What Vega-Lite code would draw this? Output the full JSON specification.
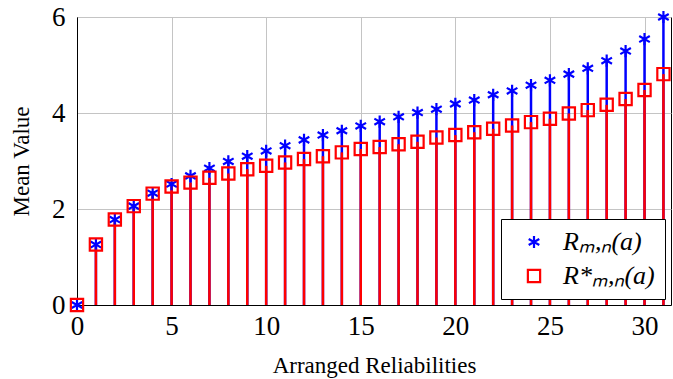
{
  "$schema": "https://vega.github.io/schema/vega-lite/v6.json",
  "width": 594,
  "height": 288,
  "autosize": {"type": "none"},
  "padding": {"left": 77, "top": 17, "right": 2, "bottom": 74},
  "background": "white",
  "config": {
    "view": {"stroke": "black", "strokeWidth": 1},
    "font": "Liberation Serif",
    "style": {
      "guide-label": {"font": "Liberation Serif", "fill": "black"},
      "guide-title": {"font": "Liberation Serif", "fill": "black", "fontWeight": "normal"}
    }
  },
  "data": {
    "values": [
      {"x": 0, "s": "R", "v": 0},
      {"x": 1, "s": "R", "v": 1.26},
      {"x": 2, "s": "R", "v": 1.78},
      {"x": 3, "s": "R", "v": 2.06},
      {"x": 4, "s": "R", "v": 2.33},
      {"x": 5, "s": "R", "v": 2.52},
      {"x": 6, "s": "R", "v": 2.69},
      {"x": 7, "s": "R", "v": 2.85},
      {"x": 8, "s": "R", "v": 2.99},
      {"x": 9, "s": "R", "v": 3.10},
      {"x": 10, "s": "R", "v": 3.21},
      {"x": 11, "s": "R", "v": 3.32},
      {"x": 12, "s": "R", "v": 3.44},
      {"x": 13, "s": "R", "v": 3.54},
      {"x": 14, "s": "R", "v": 3.63},
      {"x": 15, "s": "R", "v": 3.73},
      {"x": 16, "s": "R", "v": 3.82},
      {"x": 17, "s": "R", "v": 3.92},
      {"x": 18, "s": "R", "v": 4.01},
      {"x": 19, "s": "R", "v": 4.08},
      {"x": 20, "s": "R", "v": 4.19},
      {"x": 21, "s": "R", "v": 4.27},
      {"x": 22, "s": "R", "v": 4.38},
      {"x": 23, "s": "R", "v": 4.46},
      {"x": 24, "s": "R", "v": 4.58},
      {"x": 25, "s": "R", "v": 4.68},
      {"x": 26, "s": "R", "v": 4.81},
      {"x": 27, "s": "R", "v": 4.93},
      {"x": 28, "s": "R", "v": 5.09},
      {"x": 29, "s": "R", "v": 5.29},
      {"x": 30, "s": "R", "v": 5.54},
      {"x": 31, "s": "R", "v": 6.0},
      {"x": 0, "s": "Rs", "v": 0},
      {"x": 1, "s": "Rs", "v": 1.26},
      {"x": 2, "s": "Rs", "v": 1.78},
      {"x": 3, "s": "Rs", "v": 2.06},
      {"x": 4, "s": "Rs", "v": 2.32},
      {"x": 5, "s": "Rs", "v": 2.47},
      {"x": 6, "s": "Rs", "v": 2.55},
      {"x": 7, "s": "Rs", "v": 2.65},
      {"x": 8, "s": "Rs", "v": 2.74},
      {"x": 9, "s": "Rs", "v": 2.83},
      {"x": 10, "s": "Rs", "v": 2.90},
      {"x": 11, "s": "Rs", "v": 2.97},
      {"x": 12, "s": "Rs", "v": 3.04},
      {"x": 13, "s": "Rs", "v": 3.10},
      {"x": 14, "s": "Rs", "v": 3.18},
      {"x": 15, "s": "Rs", "v": 3.25},
      {"x": 16, "s": "Rs", "v": 3.29},
      {"x": 17, "s": "Rs", "v": 3.35},
      {"x": 18, "s": "Rs", "v": 3.40},
      {"x": 19, "s": "Rs", "v": 3.49},
      {"x": 20, "s": "Rs", "v": 3.54},
      {"x": 21, "s": "Rs", "v": 3.60},
      {"x": 22, "s": "Rs", "v": 3.67},
      {"x": 23, "s": "Rs", "v": 3.74},
      {"x": 24, "s": "Rs", "v": 3.81},
      {"x": 25, "s": "Rs", "v": 3.88},
      {"x": 26, "s": "Rs", "v": 3.99},
      {"x": 27, "s": "Rs", "v": 4.06},
      {"x": 28, "s": "Rs", "v": 4.17},
      {"x": 29, "s": "Rs", "v": 4.29},
      {"x": 30, "s": "Rs", "v": 4.48},
      {"x": 31, "s": "Rs", "v": 4.81}
    ]
  },
  "encoding": {
    "x": {
      "field": "x",
      "type": "quantitative",
      "scale": {"domain": [0, 31.4], "nice": false, "zero": false},
      "axis": {
        "values": [0, 5, 10, 15, 20, 25, 30],
        "grid": true, "gridColor": "#c4c4c4", "gridWidth": 1, "ticks": false,
        "domainColor": "black", "domainWidth": 1,
        "labelFont": "Liberation Serif", "labelFontSize": 27, "labelColor": "black",
        "labelFlush": false, "labelOverlap": false, "labelPadding": 8,
        "title": "Arranged Reliabilities",
        "titleFont": "Liberation Serif", "titleFontSize": 23, "titleFontWeight": "normal", "titleColor": "black",
        "titlePadding": 15,
        "encode": {"labels": {"update": {"font": {"value": "Liberation Serif"}, "fontStyle": {"value": "normal"}}}}
      }
    },
    "y": {
      "field": "v",
      "type": "quantitative",
      "scale": {"domain": [0, 6], "nice": false},
      "axis": {
        "values": [0, 2, 4, 6],
        "grid": true, "gridColor": "#c4c4c4", "gridWidth": 1, "ticks": false,
        "domainColor": "black", "domainWidth": 1,
        "labelFont": "Liberation Serif", "labelFontSize": 27, "labelColor": "black",
        "labelFlush": false, "labelOverlap": false, "labelPadding": 12,
        "title": "Mean Value",
        "titleFont": "Liberation Serif", "titleFontSize": 23, "titleFontWeight": "normal", "titleColor": "black",
        "titlePadding": 18,
        "encode": {"labels": {"update": {"font": {"value": "Liberation Serif"}, "fontStyle": {"value": "normal"}}}}
      }
    },
    "color": {
      "field": "s",
      "type": "nominal",
      "scale": {"domain": ["R", "Rs"], "range": ["#0000ff", "#ff0000"]},
      "legend": {
        "orient": "none",
        "legendX": 424,
        "legendY": 202,
        "title": null,
        "fillColor": "white",
        "strokeColor": "black",
        "padding": 10,
        "symbolOffset": 10,
        "labelOffset": 16,
        "labelFont": "Liberation Serif",
        "labelFontSize": 26,
        "labelFontStyle": "italic",
        "labelColor": "black",
        "symbolStrokeWidth": 2.2,
        "symbolSize": 150,
        "rowPadding": 8,
        "labelExpr": "datum.value == 'R' ? 'Rₘ,ₙ(a)' : 'R*ₘ,ₙ(a)'",
        "encode": {"labels": {"update": {"font": {"value": "Liberation Serif"}}}}
      }
    }
  },
  "layer": [
    {
      "mark": {"type": "rule", "strokeWidth": 2.5, "clip": false},
      "encoding": {
        "y2": {"datum": 0}
      }
    },
    {
      "mark": {"type": "point", "filled": false, "strokeWidth": 2.2, "size": 150, "opacity": 1, "clip": false},
      "encoding": {
        "shape": {
          "field": "s",
          "type": "nominal",
          "scale": {"domain": ["R", "Rs"], "range": ["M0,-1L0,1M-0.866,-0.5L0.866,0.5M-0.866,0.5L0.866,-0.5", "square"]}
        }
      }
    }
  ]
}
